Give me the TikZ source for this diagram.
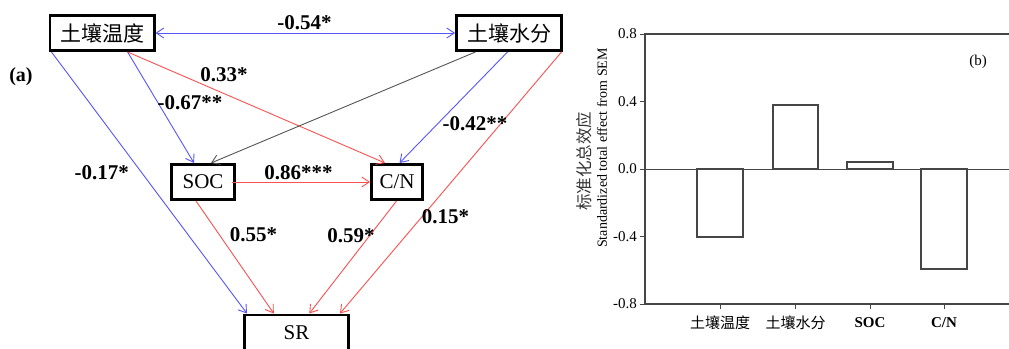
\documentclass[tikz,border=0pt]{standalone}
\usepackage{fontspec}
\setmainfont{Liberation Serif}
\newfontfamily\cjk{Noto Sans CJK SC}
\usetikzlibrary{arrows.meta,calc}
\definecolor{pblue}{RGB}{85,85,250}
\definecolor{pred}{RGB}{250,80,80}
\definecolor{pgray}{RGB}{85,85,85}
\definecolor{axisc}{RGB}{70,70,70}
\begin{document}
\begin{tikzpicture}[x=1pt,y=-1pt,
  box/.style={draw=black,line width=2.7pt,inner sep=0pt,minimum height=35.3pt,font=\fontsize{21}{21}\selectfont},
  lab/.style={font=\bfseries\fontsize{21}{21}\selectfont,inner sep=0pt},
  arr/.style={line width=0.9pt,-{Straight Barb[length=7.5pt,width=10pt]}},
  darr/.style={line width=0.9pt,{Straight Barb[length=7.5pt,width=10pt]}-{Straight Barb[length=7.5pt,width=10pt]}},
  bar/.style={draw=axisc,line width=1.1pt,fill=white},
  axisline/.style={draw=axisc,line width=1.2pt},
  tick/.style={font=\fontsize{15}{15}\selectfont,inner sep=0pt,anchor=east},
  xlab/.style={font=\fontsize{15}{15}\selectfont,inner sep=0pt}
]
\useasboundingbox (0,0) rectangle (1009,348);

% ---------- panel (a) ----------
\node[box,minimum width=104.3pt] (T) at (102,33) {\cjk 土壤温度};
\node[box,minimum width=105.3pt] (M) at (509,33) {\cjk 土壤水分};
\node[box,minimum width=63.3pt] (S) at (203,182) {SOC};
\node[box,minimum width=51.3pt] (C) at (397,182) {C/N};
\node[box,minimum width=104.3pt] (R) at (296.5,332.5) {SR};

\node[lab,font=\bfseries\fontsize{20}{20}\selectfont] (la) at (21,77) {(a)};

\draw[darr,pblue] (T.east) -- (M.west);
\draw[arr,pblue] ([xshift=3pt]T.south west) -- ([xshift=4pt]R.north west);
\draw[arr,pblue] ([xshift=25.6pt]T.south) -- ([xshift=-9pt]S.north);
\draw[arr,pred] ([xshift=25.6pt]T.south) -- ([xshift=-12pt]C.north);
\draw[arr,pgray] ([xshift=-33.6pt]M.south) -- ([xshift=8pt]S.north);
\draw[arr,pblue] ([xshift=-1.5pt]M.south) -- ([xshift=2.5pt]C.north);
\draw[arr,pred] ([xshift=-1.5pt]M.south east) -- ([xshift=-10pt]R.north east);
\draw[arr,pred] ([xshift=-3.7pt]S.east) -- (C.west);
\draw[arr,pred] ([xshift=-7pt]S.south) -- ([xshift=-22.7pt]R.north);
\draw[arr,pred] ([xshift=-0.5pt]C.south) -- ([xshift=12.8pt]R.north);

\node[lab] (l1) at (304.5,23) {-0.54*};
\node[lab] (l2) at (224,75) {0.33*};
\node[lab] (l3) at (190,103) {-0.67**};
\node[lab] (l4) at (475,124) {-0.42**};
\node[lab] (l5) at (101.7,173) {-0.17*};
\node[lab] (l6) at (298.4,173) {0.86***};
\node[lab] (l7) at (253.4,235) {0.55*};
\node[lab] (l8) at (351,236) {0.59*};
\node[lab] (l9) at (445.4,217) {0.15*};

% ---------- panel (b) ----------
\draw[bar] (697,169) rectangle (743,237);
\draw[bar] (773,169) rectangle (818,105);
\draw[bar] (847,169) rectangle (893,162);
\draw[bar] (921,169) rectangle (967,269);

\draw[axisline] (1009,34) -- (645,34) -- (645,304) -- (1009,304);
\draw[axisline,line width=1pt] (645,169) -- (1009,169);

\foreach \yy/\tt in {34/0.8,101.5/0.4,169/0.0,236.5/-0.4,304/-0.8}{
  \draw[axisc,line width=1pt] (645,\yy) -- (640,\yy);
  \node[tick] at (637,\yy) {\tt};
}
\foreach \xx in {720,795.5,870,944}{
  \draw[axisc,line width=1pt] (\xx,304) -- (\xx,309);
}
\node[xlab] (x1) at (720,323) {\cjk 土壤温度};
\node[xlab] (x2) at (795.5,323) {\cjk 土壤水分};
\node[xlab,font=\bfseries\fontsize{15}{15}\selectfont] (x3) at (870,323) {SOC};
\node[xlab,font=\bfseries\fontsize{15}{15}\selectfont] (x4) at (944,323) {C/N};

\node[font=\fontsize{15}{15}\selectfont,inner sep=0pt] (lb) at (978,62) {(b)};

\node[rotate=90,font=\fontsize{14}{14}\selectfont,inner sep=0pt] (yl) at (602,148) {Standardized total effect from SEM};
\node[rotate=90,font=\cjk\fontsize{16.5}{16.5}\selectfont,inner sep=0pt,text=black!80] (yc) at (584,161) {标准化总效应};
\end{tikzpicture}
\end{document}
